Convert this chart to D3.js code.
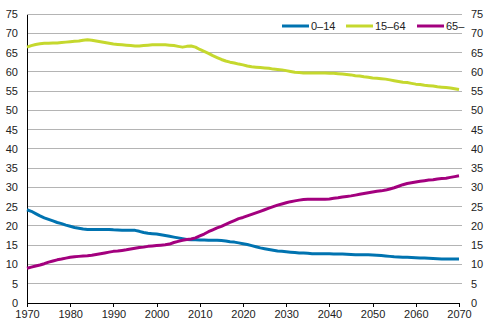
<!DOCTYPE html>
<html><head><meta charset="utf-8">
<script src="https://cdn.jsdelivr.net/npm/d3@7"></script>
<style>body{margin:0;background:#fff}svg{display:block;font-family:"Liberation Sans",Arial,sans-serif}</style>
</head><body><svg id="c" width="487" height="327"></svg>
<script>
const years = d3.range(1970, 2071);
const seriesNames = ["0–14", "15–64", "65–"];
const seriesColors = ["#0073b0", "#c5d82e", "#a3007e"];
const age0_14 = [24.2,23.8,23.2,22.6,22.1,21.7,21.3,20.9,20.6,20.2,19.9,19.6,19.4,19.2,19.1,19.1,19.1,19.1,19.1,19.1,19.0,18.95,18.9,18.9,18.9,18.85,18.6,18.3,18.1,18.0,17.9,17.7,17.5,17.3,17.1,16.9,16.7,16.5,16.4,16.4,16.35,16.35,16.3,16.3,16.3,16.2,16.1,15.9,15.8,15.6,15.4,15.2,14.9,14.6,14.3,14.1,13.9,13.7,13.5,13.4,13.3,13.2,13.1,13.0,12.95,12.9,12.8,12.8,12.8,12.8,12.75,12.7,12.7,12.7,12.65,12.6,12.55,12.5,12.5,12.5,12.45,12.4,12.3,12.2,12.1,12.0,11.95,11.9,11.85,11.8,11.75,11.7,11.65,11.6,11.55,11.5,11.45,11.4,11.4,11.4,11.4];
const age15_64 = [66.4,66.8,67.1,67.3,67.4,67.4,67.5,67.5,67.6,67.7,67.8,67.9,68.0,68.2,68.3,68.2,68.0,67.8,67.6,67.4,67.2,67.1,67.0,66.9,66.8,66.7,66.7,66.8,66.9,67.0,67.0,67.0,67.0,66.9,66.8,66.6,66.4,66.6,66.7,66.4,65.8,65.3,64.8,64.2,63.7,63.2,62.8,62.5,62.3,62.0,61.8,61.5,61.3,61.2,61.1,61.0,60.9,60.7,60.6,60.5,60.3,60.1,59.9,59.8,59.7,59.7,59.7,59.7,59.7,59.7,59.6,59.6,59.5,59.4,59.3,59.2,59.0,58.9,58.7,58.6,58.4,58.3,58.2,58.1,57.9,57.7,57.5,57.3,57.2,57.0,56.8,56.7,56.5,56.4,56.3,56.1,56.0,55.9,55.8,55.6,55.4];
const age65 = [9.0,9.3,9.6,9.85,10.2,10.6,10.9,11.2,11.4,11.65,11.85,12.0,12.1,12.2,12.25,12.4,12.6,12.8,13.0,13.2,13.4,13.5,13.65,13.8,14.0,14.2,14.4,14.5,14.7,14.8,14.9,15.0,15.1,15.3,15.7,16.0,16.3,16.5,16.6,16.9,17.4,17.9,18.5,19.0,19.5,19.9,20.4,20.9,21.4,21.9,22.2,22.6,23.0,23.4,23.8,24.2,24.6,25.0,25.4,25.7,26.0,26.3,26.5,26.7,26.85,26.9,26.9,26.9,26.9,26.95,27.0,27.2,27.3,27.5,27.65,27.8,28.0,28.2,28.4,28.6,28.8,29.0,29.1,29.3,29.6,29.9,30.3,30.7,31.0,31.2,31.4,31.6,31.75,31.9,32.0,32.2,32.3,32.4,32.6,32.8,33.0];
const yTicks = d3.range(0, 76, 5);
const xTicks = d3.range(1970, 2071, 10);

const svg = d3.select("#c");
const x = d3.scaleLinear().domain([1970, 2070]).range([27, 459]);
const y = d3.scaleLinear().domain([0, 75]).range([303, 14]);

// gridlines
svg.append("g").selectAll("line").data(yTicks.filter(d => d > 0)).join("line")
  .attr("x1", 27).attr("x2", 462).attr("y1", d => y(d)).attr("y2", d => y(d))
  .attr("stroke", "#b4b4b4").attr("stroke-width", 1).attr("shape-rendering", "crispEdges");

// left axis
const yl = svg.append("g").attr("transform", "translate(27,0)")
  .call(d3.axisLeft(y).tickValues(yTicks).tickSize(0).tickPadding(9));
yl.select(".domain").attr("stroke", "#000").attr("shape-rendering", "crispEdges");
yl.selectAll("text").attr("font-size", 11).attr("fill", "#222").attr("font-family", "Liberation Sans, Arial, sans-serif");

// right axis labels
const yr = svg.append("g").attr("transform", "translate(462,0)")
  .call(d3.axisRight(y).tickValues(yTicks).tickSize(0).tickPadding(9));
yr.select(".domain").remove();
yr.selectAll("text").attr("font-size", 11).attr("fill", "#222").attr("font-family", "Liberation Sans, Arial, sans-serif");

// bottom axis
const xa = svg.append("g").attr("transform", "translate(0,303)")
  .call(d3.axisBottom(x).tickValues(xTicks).tickFormat(d3.format("d")).tickSize(4).tickSizeOuter(0).tickPadding(3));
xa.select(".domain").attr("stroke", "#000").attr("shape-rendering", "crispEdges");
xa.selectAll("line").attr("stroke", "#000").attr("shape-rendering", "crispEdges");
xa.selectAll("text").attr("font-size", 11).attr("fill", "#222").attr("font-family", "Liberation Sans, Arial, sans-serif");

const data = [age0_14, age15_64, age65];
const line = d3.line().x((d, i) => x(years[i])).y(d => y(d));
svg.append("g").selectAll("path").data(data).join("path")
  .attr("d", d => line(d)).attr("fill", "none")
  .attr("stroke", (d, i) => seriesColors[i]).attr("stroke-width", 3)
  .attr("stroke-linejoin", "round");

// legend
const legX = [282, 346, 417];
const lg = svg.append("g").selectAll("g").data(seriesNames).join("g")
  .attr("transform", (d, i) => `translate(${legX[i]},26)`);
lg.append("line").attr("x1", 0).attr("x2", 27).attr("y1", 0).attr("y2", 0)
  .attr("stroke", (d, i) => seriesColors[i]).attr("stroke-width", 3);
lg.append("text").attr("x", 29).attr("y", 4).text(d => d)
  .attr("font-size", 11).attr("fill", "#222");
</script></body></html>
